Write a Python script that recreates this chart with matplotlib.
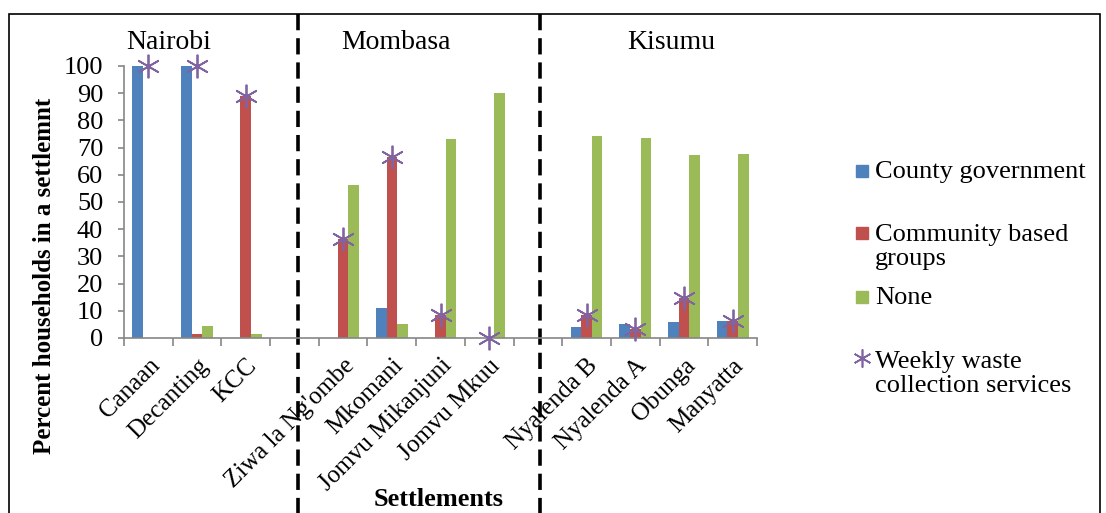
#!/usr/bin/env python
# waste collection providers per settlement, grouped by city
import matplotlib
matplotlib.use('Agg')
import matplotlib.pyplot as plt
from matplotlib.patches import Rectangle
from matplotlib.lines import Line2D
import numpy as np

settlements = ['Canaan', 'Decanting', 'KCC', '',
               "Ziwa la Ng'ombe", 'Mkomani', 'Jomvu Mikanjuni', 'Jomvu Mkuu', '',
               'Nyalenda B', 'Nyalenda A', 'Obunga', 'Manyatta']
county = [100, 100, 0, np.nan, 0, 10.9, 0, 0, np.nan, 4.0, 5.0, 6.0, 6.4]
community = [0, 1.3, 89, np.nan, 36.3, 66.6, 8.6, 0, np.nan, 8.3, 3.3, 14.7, 6.1]
none = [0, 4.4, 1.6, np.nan, 56.2, 5.3, 73.3, 90, np.nan, 74.4, 73.6, 67.2, 67.6]
weekly = [100, 100, 89, np.nan, 36.3, 66.6, 8.6, 0, np.nan, 8.3, 3.3, 14.7, 6.1]
regions = ['Nairobi', 'Mombasa', 'Kisumu']

c_blue = '#4F81BD'
c_red = '#C0504D'
c_green = '#9BBB59'
c_purple = '#8064A2'
gray = '#868686'

plt.rcParams['font.family'] = ['Liberation Serif', 'DejaVu Serif']

W, H = 1106, 513
fig = plt.figure(figsize=(W/100, H/100), dpi=100)
ax = fig.add_axes([124/W, 1-338/H, (757-124)/W, (338-66)/H])

x = np.arange(len(settlements))
bw = 0.217
ax.bar(x-bw, county, bw, color=c_blue, label='County government')
ax.bar(x, community, bw, color=c_red, label='Community based groups')
ax.bar(x+bw, none, bw, color=c_green, label='None')
ax.plot(x, weekly, ls='none', marker=(6, 2, 0), ms=17, mew=1.3,
        color=c_purple, clip_on=False, zorder=5)

ax.set_xlim(-0.5, len(settlements)-0.5)
ax.set_ylim(0, 100)
ax.set_yticks(range(0, 101, 10))
ax.tick_params(axis='y', labelsize=19, length=4, color=gray, width=1.2, pad=11)
ax.set_xticks(x)
ax.set_xticklabels(settlements, rotation=45, ha='right', va='top',
                   rotation_mode='anchor', fontsize=18)
ax.tick_params(axis='x', which='major', length=0, pad=12)
ax.set_xticks(np.arange(-0.5, len(settlements), 1), minor=True)
ax.tick_params(axis='x', which='minor', length=6, color=gray, width=1.2)
for s in ['top', 'right']:
    ax.spines[s].set_visible(False)
for s in ['left', 'bottom']:
    ax.spines[s].set_color(gray)
    ax.spines[s].set_linewidth(1.2)

ax.set_ylabel('Percent households in a settlemnt', fontsize=18, fontweight='bold')
ax.yaxis.set_label_coords(-0.107, 0.23)
ax.set_xlabel('Settlements', fontsize=19, fontweight='bold')
ax.xaxis.set_label_coords(0.497, -0.552)

# city names and dashed separators
for name, cx in zip(regions, [0.41, 5.08, 10.73]):
    ax.text(cx, 1.085, name, transform=ax.get_xaxis_transform(),
            ha='center', va='center', fontsize=20)
for d in [3.08, 8.04]:
    ax.plot([d, d], [1.19, -0.7], transform=ax.get_xaxis_transform(),
            color='black', lw=2.6, ls=(0, (4.5, 2.2)), clip_on=False)

# legend
leg_items = [
    ('sq', c_blue, 'County government', 161, 171),
    ('sq', c_red, 'Community based\ngroups', 224, 233),
    ('sq', c_green, 'None', 287, 297),
    ('st', c_purple, 'Weekly waste\ncollection services', 351, 358),
]
for kind, col, lab, ty, my in leg_items:
    if kind == 'sq':
        fig.patches.append(Rectangle((856/W, 1-(my+6)/H), 12/W, 12/H,
                                     transform=fig.transFigure, color=col))
    else:
        fig.lines.append(Line2D([862/W], [1-my/H], marker=(6, 2, 0), ms=13, mew=1.2,
                                color=col, transform=fig.transFigure))
    fig.text(875/W, 1-ty/H, lab, ha='left', va='top', fontsize=19,
             linespacing=1.12)

# outer frame
fig.patches.append(Rectangle((9/W, -0.1), (1100-9)/W, 1.1-14/H, fill=False,
                             edgecolor='black', lw=1.2, transform=fig.transFigure))

plt.savefig('out.png', dpi=100)
